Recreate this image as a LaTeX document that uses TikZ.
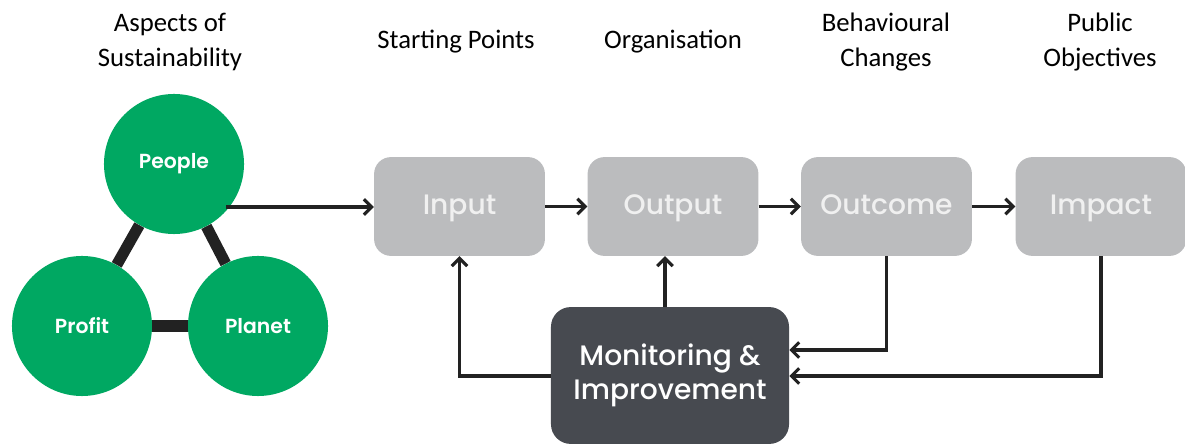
\documentclass[tikz,border=0pt]{standalone}
\usepackage{fontspec}
\setmainfont{Carlito}
\newfontfamily\boxfont{Poppins Medium}
\newfontfamily\circlefont{Poppins SemiBold}
\usepackage{tikz}
\usetikzlibrary{arrows.meta}
\definecolor{pgreen}{RGB}{0,168,98}
\definecolor{pgrey}{RGB}{187,188,190}
\definecolor{pdark}{RGB}{71,74,80}
\definecolor{pline}{RGB}{34,34,34}

\begin{document}
\begin{tikzpicture}[x=0.025cm,y=-0.025cm,
    aspect/.style={circle,fill=pgreen,minimum size=3.5cm,inner sep=0pt,text=white,font=\circlefont\fontsize{14.5}{18}\selectfont},
    stage/.style={rounded corners=12pt,fill=pgrey,minimum width=4.27cm,minimum height=2.47cm,text height=15pt,text depth=4pt,text=white!94!black,font=\boxfont\fontsize{20}{24}\selectfont},
    monitor/.style={rounded corners=14pt,fill=pdark,minimum width=5.95cm,minimum height=3.42cm,text=white,align=center,font=\boxfont\fontsize{20}{24}\selectfont},
    heading/.style={align=center,font=\fontsize{19}{25}\selectfont},
    link/.style={line width=8pt,draw=pline},
    flow/.style={line width=2.2pt,draw=pline,-{Straight Barb[length=5.5pt,width=11pt]}}]
  \useasboundingbox (0,0) rectangle (1185,445);
  % headings
  \node[heading] (hAspects) at (170,42) {Aspects of\\Sustainability};
  \node[heading] (hStart) at (456,42) {Starting Points};
  \node[heading] (hOrg) at (673,42) {Organisation};
  \node[heading] (hBehav) at (886,42) {Behavioural\\Changes};
  \node[heading] (hPublic) at (1100,42) {Public\\Objectives};
  % triangle of circles
  \node[aspect] (people) at (174,164) {People};
  \node[aspect] (profit) at (82,326) {Profit};
  \node[aspect] (planet) at (258,326) {Planet};
  % stages
  \node[stage] (input) at (459.5,206.5) {Input};
  \node[stage] (output) at (673,206.5) {Output};
  \node[stage] (outcome) at (886.5,206.5) {Outcome};
  \node[stage] (impact) at (1101,206.5) {Impact};
  \node[monitor] (monit) at (670,375.5) {Monitoring \&\\Improvement};
  % links between circles
  \draw[link] (people) -- (profit);
  \draw[link] (people) -- (planet);
  \draw[link] (profit) -- (planet);
  % flow
  \draw[flow] (people.center |- 0,207) ++(52,0) coordinate (pOut) -- (input.west |- pOut);
  \draw[flow] (input) -- (output);
  \draw[flow] (output) -- (outcome);
  \draw[flow] (outcome) -- (impact);
  % feedback
  \draw[flow] (monit.west |- 0,376) -| (input.south);
  \draw[flow] (monit.north -| output.south) ++(-8,0) coordinate (mTop) -- (mTop |- output.south);
  \draw[flow] (outcome.south) |- (monit.east |- 0,350);
  \draw[flow] (impact.south) |- (monit.east |- 0,376);
\end{tikzpicture}
\end{document}
